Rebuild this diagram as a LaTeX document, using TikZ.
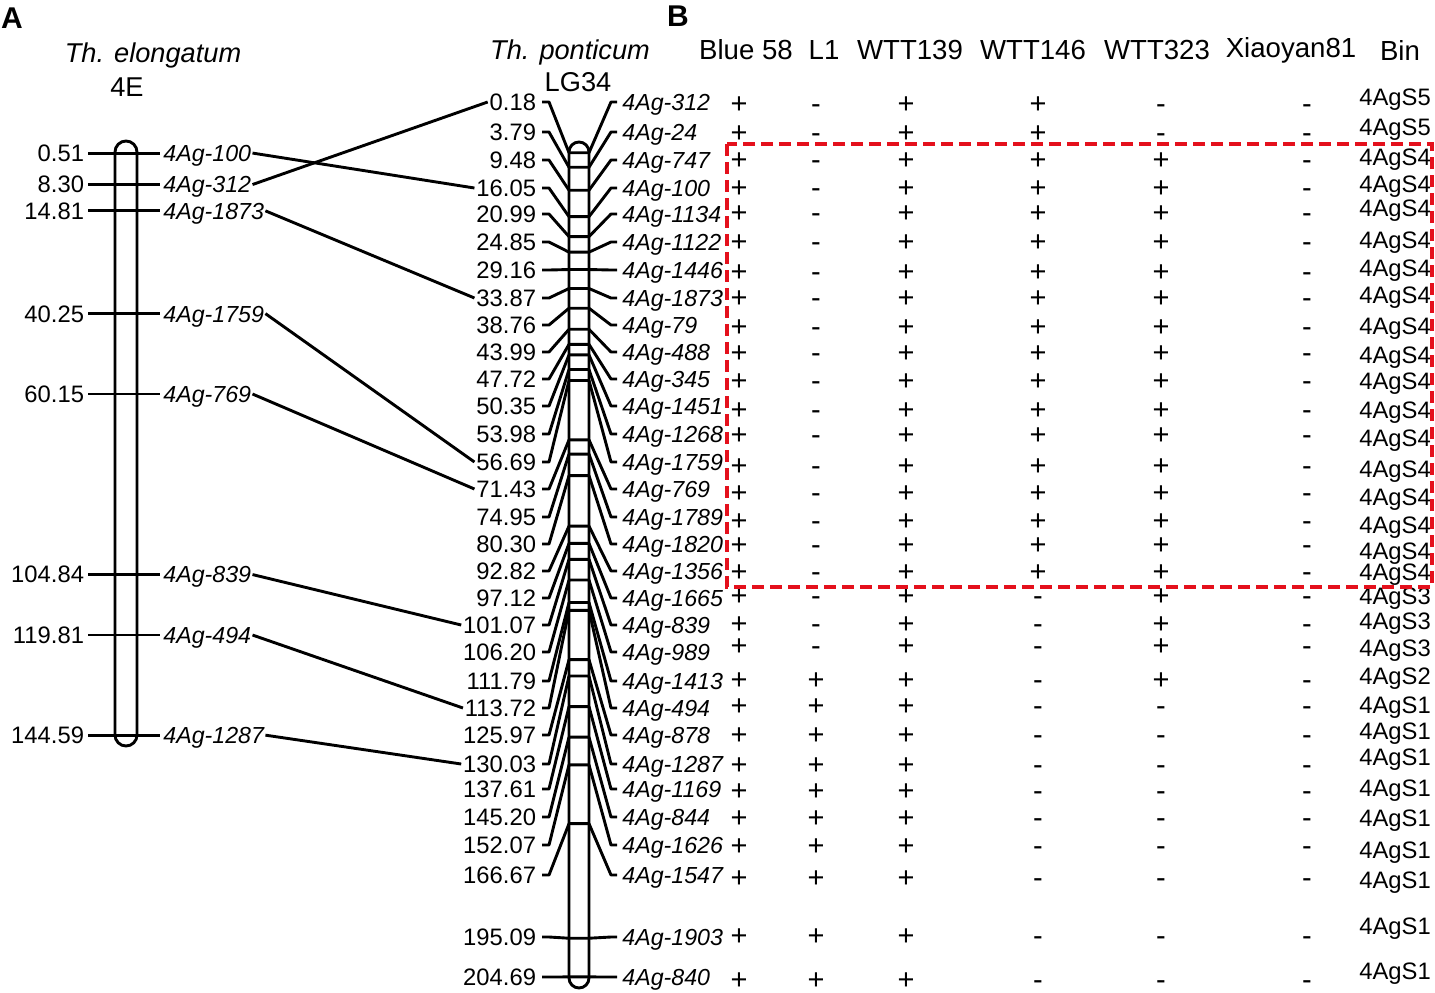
\documentclass[tikz,border=0pt]{standalone}
\usepackage{fontspec}
\setmainfont{Liberation Sans}
\begin{document}
\begin{tikzpicture}[x=0.5pt,y=-0.5pt,
  lw/.style={line width=1.45pt, line join=round},
  txt/.style={inner sep=0.8pt, text height=8.4pt, text depth=0pt, font=\fontsize{11.9}{13}\selectfont},
  mk/.style={inner sep=0.5pt, text height=8.4pt, text depth=0pt, font=\fontsize{11.6}{13}\selectfont\itshape},
  pm/.style={inner sep=0pt, text height=7.5pt, text depth=0pt, anchor=base, font=\fontsize{14.5}{15}\selectfont},
  hdr/.style={inner sep=0pt, font=\fontsize{13.8}{15}\selectfont},
  ttl/.style={inner sep=0pt, font=\fontsize{13.6}{15}\selectfont},
  panel/.style={inner sep=0pt, font=\fontsize{15}{17}\selectfont\bfseries},
  chrom/.style={line width=1.45pt},
  box/.style={draw={rgb,255:red,228;green,16;blue,28}, line width=1.6pt, dash pattern=on 6pt off 3pt}]
\useasboundingbox (0,0) rectangle (1435,992);

% panel labels and titles
\node[panel] (pA) at (12,18) {A};
\node[panel] (pB) at (678,16) {B};
\node[ttl,font=\fontsize{13.6}{15}\selectfont\itshape] (t1) at (153,55) {Th. elongatum};
\node[ttl] (t2) at (127,87) {4E};
\node[ttl,font=\fontsize{13.6}{15}\selectfont\itshape] (t3) at (570,52) {Th. ponticum};
\node[ttl] (t4) at (578,82) {LG34};

% left chromosome
\foreach \i/\cm/\m in {1/0.51/100,2/8.30/312,3/14.81/1873,4/40.25/1759,5/60.15/769,6/104.84/839,7/119.81/494,8/144.59/1287}{
  \pgfmathsetmacro\ty{151+4.04*\cm}
  \node[txt,anchor=east] (ln\i) at (86,\ty) {\cm};
  \node[mk,anchor=west] (lm\i) at (162,\ty) {4Ag-\m};
  \draw[lw] (88,\ty) -- (160,\ty);
}
\draw[chrom,rounded corners=5.5pt] (115,141) rectangle (137,746);

% middle chromosome
\foreach \i/\cm/\ly/\m in {1/0.18/102/312,2/3.79/132/24,3/9.48/160/747,4/16.05/188/100,5/20.99/214/1134,
  6/24.85/242/1122,7/29.16/270/1446,8/33.87/298/1873,9/38.76/325/79,10/43.99/352/488,
  11/47.72/379/345,12/50.35/406/1451,13/53.98/434/1268,14/56.69/462/1759,15/71.43/489/769,
  16/74.95/517/1789,17/80.30/544/1820,18/92.82/571/1356,19/97.12/598/1665,20/101.07/625/839,
  21/106.20/652/989,22/111.79/681/1413,23/113.72/708/494,24/125.97/735/878,25/130.03/764/1287,
  26/137.61/789/1169,27/145.20/817/844,28/152.07/845/1626,29/166.67/875/1547,30/195.09/937/1903,
  31/204.69/977/840}{
  \pgfmathsetmacro\ty{152+4.03*\cm}
  \node[txt,anchor=east] (mn\i) at (538,\ly) {\cm};
  \node[mk,anchor=west] (mm\i) at (621,\ly) {4Ag-\m};
  \draw[lw] (542,\ly) -- (549,\ly) -- (569,\ty) -- (589,\ty) -- (611,\ly) -- (617,\ly);
}
\draw[chrom,rounded corners=5pt] (569,142) rectangle (589,988);

% connections between maps
\foreach \a/\b in {1/4,2/1,3/8,4/14,5/15,6/20,7/23,8/25}{
  \draw[lw] (lm\a.east) -- (mn\b.west);
}

% table header
\node[hdr] (h1) at (746,50) {Blue 58};
\node[hdr] (h2) at (824,50) {L1};
\node[hdr] (h3) at (910,50) {WTT139};
\node[hdr] (h4) at (1033,50) {WTT146};
\node[hdr] (h5) at (1157,50) {WTT323};
\node[hdr] (h6) at (1291,50) {Xiaoyan81};
\node[hdr] (h7) at (1400,50) {Bin};

% table body (baseline placed 11 px below the row centre)
\foreach \i/\ey/\pa/\pb/\pc/\pd/\pe/\pf/\bn/\by in {
  1/102/+/-/+/+/-/-/5/97, 2/131/+/-/+/+/-/-/5/127,
  3/158/+/-/+/+/+/-/4/157, 4/186/+/-/+/+/+/-/4/184, 5/211/+/-/+/+/+/-/4/208,
  6/240/+/-/+/+/+/-/4/240, 7/270/+/-/+/+/+/-/4/268, 8/296/+/-/+/+/+/-/4/295,
  9/325/+/-/+/+/+/-/4/326, 10/351/+/-/+/+/+/-/4/355, 11/379/+/-/+/+/+/-/4/381,
  12/408/+/-/+/+/+/-/4/410, 13/433/+/-/+/+/+/-/4/438, 14/464/+/-/+/+/+/-/4/469,
  15/491/+/-/+/+/+/-/4/497, 16/519/+/-/+/+/+/-/4/525, 17/543/+/-/+/+/+/-/4/551,
  18/570/+/-/+/+/+/-/4/572,
  19/594/+/-/+/-/+/-/3/596, 20/622/+/-/+/-/+/-/3/621, 21/644/+/-/+/-/+/-/3/648,
  22/678/+/+/+/-/+/-/2/676,
  23/704/+/+/+/-/-/-/1/705, 24/733/+/+/+/-/-/-/1/731, 25/763/+/+/+/-/-/-/1/757,
  26/789/+/+/+/-/-/-/1/788, 27/816/+/+/+/-/-/-/1/818, 28/844/+/+/+/-/-/-/1/850,
  29/876/+/+/+/-/-/-/1/880, 30/934/+/+/+/-/-/-/1/926, 31/978/+/+/+/-/-/-/1/971}{
  \pgfmathsetmacro\bl{\ey+11}
  \node[pm] (ca\i) at (739,\bl) {\pa};
  \node[pm] (cb\i) at (816,\bl) {\pb};
  \node[pm] (cc\i) at (906,\bl) {\pc};
  \node[pm] (cd\i) at (1038,\bl) {\pd};
  \node[pm] (ce\i) at (1161,\bl) {\pe};
  \node[pm] (cf\i) at (1307,\bl) {\pf};
  \node[txt] (bin\i) at (1395,\by) {4AgS\bn};
}

% highlighted block
\draw[box] (727,144) rectangle (1432,587);
\end{tikzpicture}
\end{document}
